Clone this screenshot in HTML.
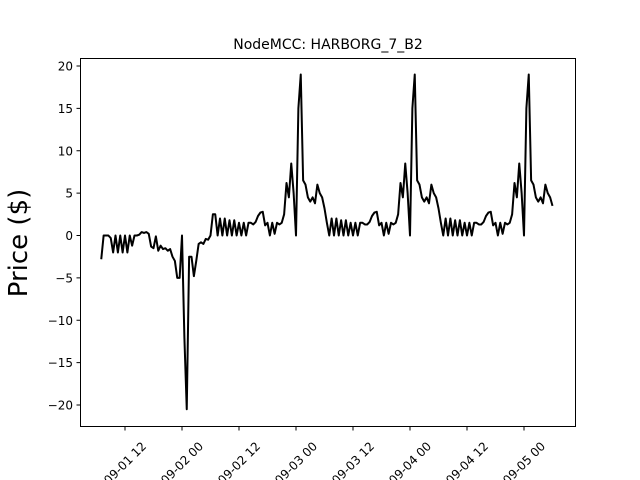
<!DOCTYPE html>
<html><head><meta charset="utf-8"><style>
html,body{margin:0;padding:0;background:#fff;}
svg{display:block;font-family:"DejaVu Sans","Liberation Sans",sans-serif;}
</style></head><body>
<svg id="chart" width="640" height="480" viewBox="0 0 640 480" xmlns="http://www.w3.org/2000/svg">
<rect x="0" y="0" width="640" height="480" fill="#fff"/>
<text x="328" y="49" text-anchor="middle" font-size="14">NodeMCC: HARBORG_7_B2</text>
<text transform="translate(27,243) rotate(-90)" text-anchor="middle" font-size="26">Price ($)</text>
<g id="plot"></g>
<rect x="80.5" y="58.5" width="495" height="368" fill="none" stroke="#000" stroke-width="1"/>
</svg>
<script>
const startHour = 7; // 09-01 07:00
const stepHours = 0.5;
const day1 = [-2.8,0,0,0,-0.3,-2,0,-2,0,-2,0,-2,0,-1.2,0,0,0.1,0.4,0.3,0.4,0.2,-1.3,-1.5,-0.1,-1.8,-1.2,-1.6,-1.5,-1.8,-1.6,-2.5,-3,-5,-5,0,-12,-20.5,-2.5,-2.5,-4.8,-3,-1,-0.8,-1,-0.4,-0.5,0,2.5];
const day2 = [2.5,0,2,0,2,0,1.8,0,1.8,0,1.5,0,1.5,0,1.5,1.5,1.3,1.6,2.3,2.7,2.8,1.2,1.5,0,1.5,0.2,1.5,1.3,1.5,2.5,6.2,4.5,8.5,5,0,15,19,6.5,6,4.5,4,4.5,3.8,6,5,4.5,3.2,1.5];
const day3 = [0,2,0,2,0,1.8,0,1.8,0,1.5,0,1.5,0,1.5,1.5,1.3,1.3,1.6,2.3,2.7,2.8,1.2,1.5,0,1.5,0.2,1.5,1.3,1.5,2.5,6.2,4.5,8.5,5,0,15,19,6.5,6,4.5,4,4.5,3.8,6,5,4.5,3.2,1.5];
const day4 = [0,2,0,2,0,1.8,0,1.8,0,1.5,0,1.5,0,1.5,1.5,1.3,1.3,1.6,2.3,2.7,2.8,1.2,1.5,0,1.5,0.2,1.5,1.3,1.5,2.5,6.2,4.5,8.5,5,0,15,19,6.5,6,4.5,4,4.5,3.8,6,5,4.5,3.5];
const yTicks = [20,15,10,5,0,-5,-10,-15,-20];
const xTickHours = [12,24,36,48,60,72,84,96,108];
const xTickLabels = ["09-01 12","09-02 00","09-02 12","09-03 00","09-03 12","09-04 00","09-04 12","09-05 00","09-05 12"];

const NS="http://www.w3.org/2000/svg";
const plot=document.getElementById('plot');
const xs=h=>125+(h-12)*4.75;
const ys=v=>235.5-v*8.475;
function mk(tag,attrs){const e=document.createElementNS(NS,tag);for(const k in attrs)e.setAttribute(k,attrs[k]);plot.appendChild(e);return e;}

yTicks.forEach(v=>{
  const y=ys(v);
  const t=mk('line',{x1:76.5,x2:80.5,y1:y,y2:y,stroke:'#000'});
  
  
  const l=mk('text',{x:73,y:y+4.5,'text-anchor':'end','font-size':'12'});
  l.textContent=v<0?'\u2212'+Math.abs(v):String(v);
  
  
});
xTickHours.forEach((h,i)=>{
  const x=xs(h);
  if(x>576)return;
  const t=mk('line',{x1:x,x2:x,y1:426.5,y2:430.5,stroke:'#000'});
  
  
  const l=mk('text',{transform:`translate(${x+3},${466}) rotate(-45)`,'text-anchor':'middle','font-size':'12'});
  l.textContent=xTickLabels[i];
  
  
});
const values=[].concat(day1,day2,day3,day4);
const pts=values.map((v,i)=>xs(startHour+i*stepHours).toFixed(2)+','+ys(v).toFixed(2)).join(' ');
const line=mk('polyline',{points:pts,fill:'none',stroke:'#000','stroke-width':'2','stroke-linejoin':'round'});


</script>
</body></html>
